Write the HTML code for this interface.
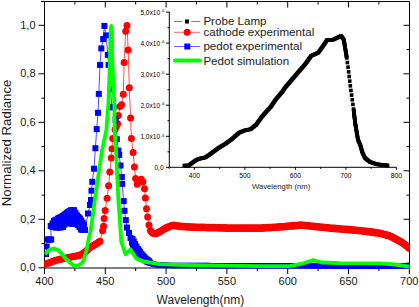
<!DOCTYPE html>
<html><head><meta charset="utf-8"><style>
html,body{margin:0;padding:0;background:#fff;}
body{width:419px;height:307px;overflow:hidden;}
svg{display:block;}
</style></head><body>
<svg width="419" height="307" viewBox="0 0 419 307">
<rect width="419" height="307" fill="#fff"/>
<defs><clipPath id="pc"><rect x="44.5" y="0" width="365" height="270"/></clipPath></defs>
<g stroke="#000" stroke-width="1" fill="none">
<path d="M41 1.5 H409.5 V268 H44.5 M44.5 268 V1.5"/>
<path d="M44.5 268 v6 M74.9 268 v3 M74.9 1.5 v3 M105.3 268 v6 M105.3 1.5 v6 M135.7 268 v3 M135.7 1.5 v3 M166.1 268 v6 M166.1 1.5 v6 M196.5 268 v3 M196.5 1.5 v3 M226.9 268 v6 M226.9 1.5 v6 M257.3 268 v3 M257.3 1.5 v3 M287.7 268 v6 M287.7 1.5 v6 M318.1 268 v3 M318.1 1.5 v3 M348.5 268 v6 M348.5 1.5 v6 M378.9 268 v3 M378.9 1.5 v3 M409.3 268 v6 M44.5 267.8 h-6 M409.5 267.8 h-6 M44.5 243.6 h-3 M409.5 243.6 h-3 M44.5 219.3 h-6 M409.5 219.3 h-6 M44.5 195.1 h-3 M409.5 195.1 h-3 M44.5 170.8 h-6 M409.5 170.8 h-6 M44.5 146.6 h-3 M409.5 146.6 h-3 M44.5 122.3 h-6 M409.5 122.3 h-6 M44.5 98.1 h-3 M409.5 98.1 h-3 M44.5 73.8 h-6 M409.5 73.8 h-6 M44.5 49.6 h-3 M409.5 49.6 h-3 M44.5 25.3 h-6 M409.5 25.3 h-6"/>
</g>
<g clip-path="url(#pc)">
<polyline points="44.0,264.5 50.0,262.5 55.0,260.6 60.0,259.3 70.0,257.2 80.0,255.3 85.0,252.0 90.0,247.5 95.0,244.5 100.0,241.3 102.6,230.8 103.6,226.3 104.1,218.5 105.2,210.4 107.1,198.3 108.6,185.8 109.8,172.0 111.3,158.0 112.0,148.7 112.7,138.4 115.1,129.4 117.6,123.7 118.4,115.6 120.0,106.6 121.6,104.8 123.3,94.2 124.1,62.4 125.7,31.3 127.0,25.6 128.2,50.0 129.3,87.7 130.6,118.0 131.4,138.4 133.1,152.4 134.4,167.1 135.6,178.5 137.2,184.2 141.3,179.3 142.9,181.8 144.5,188.8 145.4,198.0 146.5,208.7 147.7,216.9 149.0,225.0 150.5,230.5 152.5,233.0 155.5,233.8 159.0,232.3 165.0,228.5 172.7,225.2 180.0,226.3 190.0,227.0 205.0,227.5 230.0,228.1 260.0,228.2 280.0,226.9 301.0,225.1 330.0,228.0 355.0,230.2 370.0,231.8 380.0,233.3 390.0,236.0 401.6,242.2 410.0,248.5" fill="none" stroke="#f00" stroke-width="0.7"/>
<g fill="#f00"><circle cx="44.0" cy="264.5" r="3.5"/><circle cx="45.2" cy="264.1" r="3.5"/><circle cx="46.4" cy="263.7" r="3.5"/><circle cx="47.6" cy="263.3" r="3.5"/><circle cx="48.8" cy="262.9" r="3.5"/><circle cx="50.0" cy="262.5" r="3.5"/><circle cx="51.2" cy="262.0" r="3.5"/><circle cx="52.5" cy="261.6" r="3.5"/><circle cx="53.8" cy="261.1" r="3.5"/><circle cx="55.0" cy="260.6" r="3.5"/><circle cx="56.2" cy="260.3" r="3.5"/><circle cx="57.5" cy="260.0" r="3.5"/><circle cx="58.8" cy="259.6" r="3.5"/><circle cx="60.0" cy="259.3" r="3.5"/><circle cx="61.2" cy="259.0" r="3.5"/><circle cx="62.5" cy="258.8" r="3.5"/><circle cx="63.8" cy="258.5" r="3.5"/><circle cx="65.0" cy="258.2" r="3.5"/><circle cx="66.2" cy="258.0" r="3.5"/><circle cx="67.5" cy="257.7" r="3.5"/><circle cx="68.8" cy="257.5" r="3.5"/><circle cx="70.0" cy="257.2" r="3.5"/><circle cx="71.2" cy="257.0" r="3.5"/><circle cx="72.5" cy="256.7" r="3.5"/><circle cx="73.8" cy="256.5" r="3.5"/><circle cx="75.0" cy="256.2" r="3.5"/><circle cx="76.2" cy="256.0" r="3.5"/><circle cx="77.5" cy="255.8" r="3.5"/><circle cx="78.8" cy="255.5" r="3.5"/><circle cx="80.0" cy="255.3" r="3.5"/><circle cx="81.2" cy="254.5" r="3.5"/><circle cx="82.5" cy="253.7" r="3.5"/><circle cx="83.8" cy="252.8" r="3.5"/><circle cx="85.0" cy="252.0" r="3.5"/><circle cx="86.2" cy="250.9" r="3.5"/><circle cx="87.5" cy="249.8" r="3.5"/><circle cx="88.8" cy="248.6" r="3.5"/><circle cx="90.0" cy="247.5" r="3.5"/><circle cx="91.2" cy="246.8" r="3.5"/><circle cx="92.5" cy="246.0" r="3.5"/><circle cx="93.8" cy="245.2" r="3.5"/><circle cx="95.0" cy="244.5" r="3.5"/><circle cx="96.2" cy="243.7" r="3.5"/><circle cx="97.5" cy="242.9" r="3.5"/><circle cx="98.8" cy="242.1" r="3.5"/><circle cx="100.0" cy="241.3" r="3.5"/><circle cx="102.6" cy="230.8" r="3.5"/><circle cx="103.6" cy="226.3" r="3.5"/><circle cx="104.1" cy="218.5" r="3.5"/><circle cx="105.2" cy="210.4" r="3.5"/><circle cx="107.1" cy="198.3" r="3.5"/><circle cx="108.6" cy="185.8" r="3.5"/><circle cx="109.8" cy="172.0" r="3.5"/><circle cx="111.3" cy="158.0" r="3.5"/><circle cx="112.0" cy="148.7" r="3.5"/><circle cx="112.7" cy="138.4" r="3.5"/><circle cx="115.1" cy="129.4" r="3.5"/><circle cx="116.3" cy="126.6" r="3.5"/><circle cx="117.6" cy="123.7" r="3.5"/><circle cx="118.4" cy="115.6" r="3.5"/><circle cx="120.0" cy="106.6" r="3.5"/><circle cx="121.6" cy="104.8" r="3.5"/><circle cx="123.3" cy="94.2" r="3.5"/><circle cx="124.1" cy="62.4" r="3.5"/><circle cx="125.7" cy="31.3" r="3.5"/><circle cx="127.0" cy="25.6" r="3.5"/><circle cx="128.2" cy="50.0" r="3.5"/><circle cx="129.3" cy="87.7" r="3.5"/><circle cx="130.6" cy="118.0" r="3.5"/><circle cx="131.4" cy="138.4" r="3.5"/><circle cx="133.1" cy="152.4" r="3.5"/><circle cx="134.4" cy="167.1" r="3.5"/><circle cx="135.6" cy="178.5" r="3.5"/><circle cx="137.2" cy="184.2" r="3.5"/><circle cx="138.6" cy="182.6" r="3.5"/><circle cx="139.9" cy="180.9" r="3.5"/><circle cx="141.3" cy="179.3" r="3.5"/><circle cx="142.9" cy="181.8" r="3.5"/><circle cx="144.5" cy="188.8" r="3.5"/><circle cx="145.4" cy="198.0" r="3.5"/><circle cx="146.5" cy="208.7" r="3.5"/><circle cx="147.7" cy="216.9" r="3.5"/><circle cx="149.0" cy="225.0" r="3.5"/><circle cx="150.5" cy="230.5" r="3.5"/><circle cx="151.5" cy="231.8" r="3.5"/><circle cx="152.5" cy="233.0" r="3.5"/><circle cx="154.0" cy="233.4" r="3.5"/><circle cx="155.5" cy="233.8" r="3.5"/><circle cx="156.7" cy="233.3" r="3.5"/><circle cx="157.8" cy="232.8" r="3.5"/><circle cx="159.0" cy="232.3" r="3.5"/><circle cx="160.2" cy="231.5" r="3.5"/><circle cx="161.4" cy="230.8" r="3.5"/><circle cx="162.6" cy="230.0" r="3.5"/><circle cx="163.8" cy="229.3" r="3.5"/><circle cx="165.0" cy="228.5" r="3.5"/><circle cx="165.0" cy="228.8" r="3.5"/><circle cx="166.3" cy="227.6" r="3.5"/><circle cx="167.6" cy="227.8" r="3.5"/><circle cx="168.8" cy="226.5" r="3.5"/><circle cx="170.1" cy="226.6" r="3.5"/><circle cx="171.4" cy="225.4" r="3.5"/><circle cx="172.7" cy="225.5" r="3.5"/><circle cx="173.9" cy="225.0" r="3.5"/><circle cx="175.1" cy="225.9" r="3.5"/><circle cx="176.3" cy="225.4" r="3.5"/><circle cx="177.6" cy="226.3" r="3.5"/><circle cx="178.8" cy="225.8" r="3.5"/><circle cx="180.0" cy="226.7" r="3.5"/><circle cx="181.2" cy="226.0" r="3.5"/><circle cx="182.5" cy="226.8" r="3.5"/><circle cx="183.8" cy="226.2" r="3.5"/><circle cx="185.0" cy="227.0" r="3.5"/><circle cx="186.2" cy="226.4" r="3.5"/><circle cx="187.5" cy="227.2" r="3.5"/><circle cx="188.8" cy="226.6" r="3.5"/><circle cx="190.0" cy="227.3" r="3.5"/><circle cx="191.2" cy="226.7" r="3.5"/><circle cx="192.5" cy="227.4" r="3.5"/><circle cx="193.8" cy="226.8" r="3.5"/><circle cx="195.0" cy="227.5" r="3.5"/><circle cx="196.2" cy="226.9" r="3.5"/><circle cx="197.5" cy="227.6" r="3.5"/><circle cx="198.8" cy="226.9" r="3.5"/><circle cx="200.0" cy="227.7" r="3.5"/><circle cx="201.2" cy="227.0" r="3.5"/><circle cx="202.5" cy="227.8" r="3.5"/><circle cx="203.8" cy="227.1" r="3.5"/><circle cx="205.0" cy="227.8" r="3.5"/><circle cx="206.2" cy="227.2" r="3.5"/><circle cx="207.4" cy="227.9" r="3.5"/><circle cx="208.6" cy="227.2" r="3.5"/><circle cx="209.8" cy="228.0" r="3.5"/><circle cx="211.0" cy="227.3" r="3.5"/><circle cx="212.1" cy="228.0" r="3.5"/><circle cx="213.3" cy="227.3" r="3.5"/><circle cx="214.5" cy="228.1" r="3.5"/><circle cx="215.7" cy="227.4" r="3.5"/><circle cx="216.9" cy="228.1" r="3.5"/><circle cx="218.1" cy="227.5" r="3.5"/><circle cx="219.3" cy="228.2" r="3.5"/><circle cx="220.5" cy="227.5" r="3.5"/><circle cx="221.7" cy="228.2" r="3.5"/><circle cx="222.9" cy="227.6" r="3.5"/><circle cx="224.0" cy="228.3" r="3.5"/><circle cx="225.2" cy="227.6" r="3.5"/><circle cx="226.4" cy="228.4" r="3.5"/><circle cx="227.6" cy="227.7" r="3.5"/><circle cx="228.8" cy="228.4" r="3.5"/><circle cx="230.0" cy="227.8" r="3.5"/><circle cx="231.2" cy="228.5" r="3.5"/><circle cx="232.4" cy="227.8" r="3.5"/><circle cx="233.6" cy="228.5" r="3.5"/><circle cx="234.8" cy="227.8" r="3.5"/><circle cx="236.0" cy="228.5" r="3.5"/><circle cx="237.2" cy="227.8" r="3.5"/><circle cx="238.4" cy="228.5" r="3.5"/><circle cx="239.6" cy="227.8" r="3.5"/><circle cx="240.8" cy="228.5" r="3.5"/><circle cx="242.0" cy="227.8" r="3.5"/><circle cx="243.2" cy="228.5" r="3.5"/><circle cx="244.4" cy="227.8" r="3.5"/><circle cx="245.6" cy="228.5" r="3.5"/><circle cx="246.8" cy="227.8" r="3.5"/><circle cx="248.0" cy="228.5" r="3.5"/><circle cx="249.2" cy="227.8" r="3.5"/><circle cx="250.4" cy="228.5" r="3.5"/><circle cx="251.6" cy="227.8" r="3.5"/><circle cx="252.8" cy="228.5" r="3.5"/><circle cx="254.0" cy="227.8" r="3.5"/><circle cx="255.2" cy="228.5" r="3.5"/><circle cx="256.4" cy="227.8" r="3.5"/><circle cx="257.6" cy="228.5" r="3.5"/><circle cx="258.8" cy="227.8" r="3.5"/><circle cx="260.0" cy="228.5" r="3.5"/><circle cx="261.2" cy="227.8" r="3.5"/><circle cx="262.4" cy="228.4" r="3.5"/><circle cx="263.5" cy="227.6" r="3.5"/><circle cx="264.7" cy="228.2" r="3.5"/><circle cx="265.9" cy="227.5" r="3.5"/><circle cx="267.1" cy="228.1" r="3.5"/><circle cx="268.2" cy="227.3" r="3.5"/><circle cx="269.4" cy="227.9" r="3.5"/><circle cx="270.6" cy="227.2" r="3.5"/><circle cx="271.8" cy="227.8" r="3.5"/><circle cx="272.9" cy="227.0" r="3.5"/><circle cx="274.1" cy="227.6" r="3.5"/><circle cx="275.3" cy="226.9" r="3.5"/><circle cx="276.5" cy="227.5" r="3.5"/><circle cx="277.6" cy="226.7" r="3.5"/><circle cx="278.8" cy="227.3" r="3.5"/><circle cx="280.0" cy="226.6" r="3.5"/><circle cx="281.2" cy="227.2" r="3.5"/><circle cx="282.3" cy="226.4" r="3.5"/><circle cx="283.5" cy="226.9" r="3.5"/><circle cx="284.7" cy="226.2" r="3.5"/><circle cx="285.8" cy="226.8" r="3.5"/><circle cx="287.0" cy="226.0" r="3.5"/><circle cx="288.2" cy="226.5" r="3.5"/><circle cx="289.3" cy="225.8" r="3.5"/><circle cx="290.5" cy="226.3" r="3.5"/><circle cx="291.7" cy="225.6" r="3.5"/><circle cx="292.8" cy="226.2" r="3.5"/><circle cx="294.0" cy="225.3" r="3.5"/><circle cx="295.2" cy="225.9" r="3.5"/><circle cx="296.3" cy="225.2" r="3.5"/><circle cx="297.5" cy="225.8" r="3.5"/><circle cx="298.7" cy="224.9" r="3.5"/><circle cx="299.8" cy="225.5" r="3.5"/><circle cx="301.0" cy="224.8" r="3.5"/><circle cx="302.2" cy="225.6" r="3.5"/><circle cx="303.4" cy="225.0" r="3.5"/><circle cx="304.6" cy="225.8" r="3.5"/><circle cx="305.8" cy="225.2" r="3.5"/><circle cx="307.0" cy="226.1" r="3.5"/><circle cx="308.2" cy="225.5" r="3.5"/><circle cx="309.5" cy="226.3" r="3.5"/><circle cx="310.7" cy="225.7" r="3.5"/><circle cx="311.9" cy="226.5" r="3.5"/><circle cx="313.1" cy="226.0" r="3.5"/><circle cx="314.3" cy="226.8" r="3.5"/><circle cx="315.5" cy="226.2" r="3.5"/><circle cx="316.7" cy="227.0" r="3.5"/><circle cx="317.9" cy="226.4" r="3.5"/><circle cx="319.1" cy="227.3" r="3.5"/><circle cx="320.3" cy="226.7" r="3.5"/><circle cx="321.5" cy="227.5" r="3.5"/><circle cx="322.8" cy="226.9" r="3.5"/><circle cx="324.0" cy="227.7" r="3.5"/><circle cx="325.2" cy="227.2" r="3.5"/><circle cx="326.4" cy="228.0" r="3.5"/><circle cx="327.6" cy="227.4" r="3.5"/><circle cx="328.8" cy="228.2" r="3.5"/><circle cx="330.0" cy="227.7" r="3.5"/><circle cx="331.2" cy="228.5" r="3.5"/><circle cx="332.4" cy="227.9" r="3.5"/><circle cx="333.6" cy="228.7" r="3.5"/><circle cx="334.8" cy="228.1" r="3.5"/><circle cx="336.0" cy="228.9" r="3.5"/><circle cx="337.1" cy="228.3" r="3.5"/><circle cx="338.3" cy="229.1" r="3.5"/><circle cx="339.5" cy="228.5" r="3.5"/><circle cx="340.7" cy="229.3" r="3.5"/><circle cx="341.9" cy="228.7" r="3.5"/><circle cx="343.1" cy="229.5" r="3.5"/><circle cx="344.3" cy="228.9" r="3.5"/><circle cx="345.5" cy="229.7" r="3.5"/><circle cx="346.7" cy="229.1" r="3.5"/><circle cx="347.9" cy="229.9" r="3.5"/><circle cx="349.0" cy="229.3" r="3.5"/><circle cx="350.2" cy="230.1" r="3.5"/><circle cx="351.4" cy="229.5" r="3.5"/><circle cx="352.6" cy="230.3" r="3.5"/><circle cx="353.8" cy="229.7" r="3.5"/><circle cx="355.0" cy="230.5" r="3.5"/><circle cx="356.2" cy="230.0" r="3.5"/><circle cx="357.5" cy="230.8" r="3.5"/><circle cx="358.8" cy="230.2" r="3.5"/><circle cx="360.0" cy="231.1" r="3.5"/><circle cx="361.2" cy="230.5" r="3.5"/><circle cx="362.5" cy="231.3" r="3.5"/><circle cx="363.8" cy="230.8" r="3.5"/><circle cx="365.0" cy="231.6" r="3.5"/><circle cx="366.2" cy="231.1" r="3.5"/><circle cx="367.5" cy="231.9" r="3.5"/><circle cx="368.8" cy="231.3" r="3.5"/><circle cx="370.0" cy="232.2" r="3.5"/><circle cx="371.2" cy="231.6" r="3.5"/><circle cx="372.5" cy="232.5" r="3.5"/><circle cx="373.8" cy="232.0" r="3.5"/><circle cx="375.0" cy="232.9" r="3.5"/><circle cx="376.2" cy="232.4" r="3.5"/><circle cx="377.5" cy="233.3" r="3.5"/><circle cx="378.8" cy="232.8" r="3.5"/><circle cx="380.0" cy="233.7" r="3.5"/><circle cx="381.2" cy="233.3" r="3.5"/><circle cx="382.5" cy="234.3" r="3.5"/><circle cx="383.8" cy="234.0" r="3.5"/><circle cx="385.0" cy="235.0" r="3.5"/><circle cx="386.2" cy="234.6" r="3.5"/><circle cx="387.5" cy="235.7" r="3.5"/><circle cx="388.8" cy="235.3" r="3.5"/><circle cx="390.0" cy="236.3" r="3.5"/><circle cx="391.2" cy="236.3" r="3.5"/><circle cx="392.3" cy="237.6" r="3.5"/><circle cx="393.5" cy="237.5" r="3.5"/><circle cx="394.6" cy="238.8" r="3.5"/><circle cx="395.8" cy="238.8" r="3.5"/><circle cx="397.0" cy="240.1" r="3.5"/><circle cx="398.1" cy="240.0" r="3.5"/><circle cx="399.3" cy="241.3" r="3.5"/><circle cx="400.4" cy="241.2" r="3.5"/><circle cx="401.6" cy="242.5" r="3.5"/><circle cx="402.8" cy="242.8" r="3.5"/><circle cx="404.0" cy="244.3" r="3.5"/><circle cx="405.2" cy="244.6" r="3.5"/><circle cx="406.4" cy="246.1" r="3.5"/><circle cx="407.6" cy="246.3" r="3.5"/><circle cx="408.8" cy="247.9" r="3.5"/><circle cx="410.0" cy="248.5" r="3.5"/></g>
<polyline points="46.0,254.0 46.7,246.5 47.4,239.5 51.2,239.5 50.7,226.0 53.0,227.0 56.0,227.5 59.0,227.5 63.0,227.0 66.0,222.0 70.0,219.0 74.0,220.0 78.0,225.0 81.0,229.5 85.0,230.0 88.0,213.5 90.0,205.0 91.0,200.0 91.5,190.7 92.3,181.8 94.0,168.7 95.4,148.2 96.7,129.1 98.0,112.8 98.8,93.9 100.0,64.9 101.3,48.4 103.2,39.1 104.4,25.9 106.2,35.4 107.8,54.9 108.6,64.9 110.5,89.0 111.9,107.2 113.5,107.4 115.6,119.6 116.8,139.2 118.4,150.6 119.2,154.9 120.5,165.5 121.8,177.0 122.2,183.9 123.7,201.1 124.5,210.8 125.8,220.1 127.0,227.5 129.0,233.0 130.5,238.0 132.0,242.5 134.0,247.0 136.5,251.0 139.5,255.0 143.0,258.5 147.0,261.5 152.0,263.8 158.0,264.9 170.0,265.5 250.0,265.6 300.0,265.6 340.0,265.9 398.0,266.3 404.0,265.8 410.0,265.3" fill="none" stroke="#00f" stroke-width="0.7"/>
<g fill="#00f"><rect x="43.0" y="251.0" width="6" height="6"/><rect x="43.7" y="243.5" width="6" height="6"/><rect x="44.4" y="236.5" width="6" height="6"/><rect x="45.7" y="236.5" width="6" height="6"/><rect x="46.9" y="236.5" width="6" height="6"/><rect x="48.2" y="236.5" width="6" height="6"/><rect x="47.7" y="223.0" width="6" height="6"/><rect x="48.9" y="223.5" width="6" height="6"/><rect x="50.0" y="224.0" width="6" height="6"/><rect x="51.5" y="224.2" width="6" height="6"/><rect x="53.0" y="224.5" width="6" height="6"/><rect x="54.5" y="224.5" width="6" height="6"/><rect x="56.0" y="224.5" width="6" height="6"/><rect x="57.3" y="224.3" width="6" height="6"/><rect x="58.7" y="224.2" width="6" height="6"/><rect x="60.0" y="224.0" width="6" height="6"/><rect x="61.5" y="221.5" width="6" height="6"/><rect x="63.0" y="219.0" width="6" height="6"/><rect x="64.3" y="218.0" width="6" height="6"/><rect x="65.7" y="217.0" width="6" height="6"/><rect x="67.0" y="216.0" width="6" height="6"/><rect x="68.3" y="216.3" width="6" height="6"/><rect x="69.7" y="216.7" width="6" height="6"/><rect x="71.0" y="217.0" width="6" height="6"/><rect x="72.3" y="218.7" width="6" height="6"/><rect x="73.7" y="220.3" width="6" height="6"/><rect x="75.0" y="222.0" width="6" height="6"/><rect x="76.5" y="224.2" width="6" height="6"/><rect x="78.0" y="226.5" width="6" height="6"/><rect x="79.3" y="226.7" width="6" height="6"/><rect x="80.7" y="226.8" width="6" height="6"/><rect x="82.0" y="227.0" width="6" height="6"/><rect x="85.0" y="210.5" width="6" height="6"/><rect x="87.0" y="202.0" width="6" height="6"/><rect x="88.0" y="197.0" width="6" height="6"/><rect x="88.5" y="187.7" width="6" height="6"/><rect x="89.3" y="178.8" width="6" height="6"/><rect x="91.0" y="165.7" width="6" height="6"/><rect x="92.4" y="145.2" width="6" height="6"/><rect x="93.7" y="126.1" width="6" height="6"/><rect x="95.0" y="109.8" width="6" height="6"/><rect x="95.8" y="90.9" width="6" height="6"/><rect x="97.0" y="61.9" width="6" height="6"/><rect x="98.3" y="45.4" width="6" height="6"/><rect x="100.2" y="36.1" width="6" height="6"/><rect x="101.4" y="22.9" width="6" height="6"/><rect x="103.2" y="32.4" width="6" height="6"/><rect x="104.8" y="51.9" width="6" height="6"/><rect x="105.6" y="61.9" width="6" height="6"/><rect x="107.5" y="86.0" width="6" height="6"/><rect x="108.9" y="104.2" width="6" height="6"/><rect x="110.5" y="104.4" width="6" height="6"/><rect x="112.6" y="116.6" width="6" height="6"/><rect x="113.8" y="136.2" width="6" height="6"/><rect x="115.4" y="147.6" width="6" height="6"/><rect x="116.2" y="151.9" width="6" height="6"/><rect x="117.5" y="162.5" width="6" height="6"/><rect x="118.8" y="174.0" width="6" height="6"/><rect x="119.2" y="180.9" width="6" height="6"/><rect x="120.7" y="198.1" width="6" height="6"/><rect x="121.5" y="207.8" width="6" height="6"/><rect x="122.8" y="217.1" width="6" height="6"/><rect x="124.0" y="224.5" width="6" height="6"/><rect x="126.0" y="230.0" width="6" height="6"/><rect x="127.5" y="235.0" width="6" height="6"/><rect x="129.0" y="239.5" width="6" height="6"/><rect x="130.0" y="241.8" width="6" height="6"/><rect x="131.0" y="244.0" width="6" height="6"/><rect x="132.2" y="246.0" width="6" height="6"/><rect x="133.5" y="248.0" width="6" height="6"/><rect x="135.0" y="250.0" width="6" height="6"/><rect x="136.5" y="252.0" width="6" height="6"/><rect x="137.7" y="253.2" width="6" height="6"/><rect x="138.8" y="254.3" width="6" height="6"/><rect x="140.0" y="255.5" width="6" height="6"/><rect x="141.3" y="256.5" width="6" height="6"/><rect x="142.7" y="257.5" width="6" height="6"/><rect x="144.0" y="258.5" width="6" height="6"/><rect x="145.2" y="259.1" width="6" height="6"/><rect x="146.5" y="259.6" width="6" height="6"/><rect x="148.2" y="260.6" width="5.2" height="5.2"/><rect x="149.4" y="261.2" width="5.2" height="5.2"/><rect x="150.6" y="261.4" width="5.2" height="5.2"/><rect x="151.8" y="261.6" width="5.2" height="5.2"/><rect x="153.0" y="261.9" width="5.2" height="5.2"/><rect x="154.2" y="262.1" width="5.2" height="5.2"/><rect x="155.4" y="262.3" width="5.2" height="5.2"/><rect x="156.6" y="262.4" width="5.2" height="5.2"/><rect x="157.8" y="262.4" width="5.2" height="5.2"/><rect x="159.0" y="262.5" width="5.2" height="5.2"/><rect x="160.2" y="262.5" width="5.2" height="5.2"/><rect x="161.4" y="262.6" width="5.2" height="5.2"/><rect x="162.6" y="262.7" width="5.2" height="5.2"/><rect x="163.8" y="262.7" width="5.2" height="5.2"/><rect x="165.0" y="262.8" width="5.2" height="5.2"/><rect x="166.2" y="262.8" width="5.2" height="5.2"/><rect x="167.4" y="262.9" width="5.2" height="5.2"/><rect x="168.6" y="262.9" width="5.2" height="5.2"/><rect x="169.8" y="262.9" width="5.2" height="5.2"/><rect x="171.0" y="262.9" width="5.2" height="5.2"/><rect x="172.2" y="262.9" width="5.2" height="5.2"/><rect x="173.4" y="262.9" width="5.2" height="5.2"/><rect x="174.6" y="262.9" width="5.2" height="5.2"/><rect x="175.8" y="262.9" width="5.2" height="5.2"/><rect x="177.0" y="262.9" width="5.2" height="5.2"/><rect x="178.1" y="262.9" width="5.2" height="5.2"/><rect x="179.3" y="262.9" width="5.2" height="5.2"/><rect x="180.5" y="262.9" width="5.2" height="5.2"/><rect x="181.7" y="262.9" width="5.2" height="5.2"/><rect x="182.9" y="262.9" width="5.2" height="5.2"/><rect x="184.1" y="262.9" width="5.2" height="5.2"/><rect x="185.3" y="262.9" width="5.2" height="5.2"/><rect x="186.5" y="262.9" width="5.2" height="5.2"/><rect x="187.7" y="262.9" width="5.2" height="5.2"/><rect x="188.9" y="262.9" width="5.2" height="5.2"/><rect x="190.1" y="262.9" width="5.2" height="5.2"/><rect x="191.3" y="262.9" width="5.2" height="5.2"/><rect x="192.5" y="262.9" width="5.2" height="5.2"/><rect x="193.7" y="262.9" width="5.2" height="5.2"/><rect x="194.9" y="262.9" width="5.2" height="5.2"/><rect x="196.1" y="262.9" width="5.2" height="5.2"/><rect x="197.3" y="262.9" width="5.2" height="5.2"/><rect x="198.4" y="262.9" width="5.2" height="5.2"/><rect x="199.6" y="262.9" width="5.2" height="5.2"/><rect x="200.8" y="262.9" width="5.2" height="5.2"/><rect x="202.0" y="262.9" width="5.2" height="5.2"/><rect x="203.2" y="262.9" width="5.2" height="5.2"/><rect x="204.4" y="262.9" width="5.2" height="5.2"/><rect x="205.6" y="262.9" width="5.2" height="5.2"/><rect x="206.8" y="262.9" width="5.2" height="5.2"/><rect x="208.0" y="263.0" width="5.2" height="5.2"/><rect x="209.2" y="263.0" width="5.2" height="5.2"/><rect x="210.4" y="263.0" width="5.2" height="5.2"/><rect x="211.6" y="263.0" width="5.2" height="5.2"/><rect x="212.8" y="263.0" width="5.2" height="5.2"/><rect x="214.0" y="263.0" width="5.2" height="5.2"/><rect x="215.2" y="263.0" width="5.2" height="5.2"/><rect x="216.4" y="263.0" width="5.2" height="5.2"/><rect x="217.5" y="263.0" width="5.2" height="5.2"/><rect x="218.7" y="263.0" width="5.2" height="5.2"/><rect x="219.9" y="263.0" width="5.2" height="5.2"/><rect x="221.1" y="263.0" width="5.2" height="5.2"/><rect x="222.3" y="263.0" width="5.2" height="5.2"/><rect x="223.5" y="263.0" width="5.2" height="5.2"/><rect x="224.7" y="263.0" width="5.2" height="5.2"/><rect x="225.9" y="263.0" width="5.2" height="5.2"/><rect x="227.1" y="263.0" width="5.2" height="5.2"/><rect x="228.3" y="263.0" width="5.2" height="5.2"/><rect x="229.5" y="263.0" width="5.2" height="5.2"/><rect x="230.7" y="263.0" width="5.2" height="5.2"/><rect x="231.9" y="263.0" width="5.2" height="5.2"/><rect x="233.1" y="263.0" width="5.2" height="5.2"/><rect x="234.3" y="263.0" width="5.2" height="5.2"/><rect x="235.5" y="263.0" width="5.2" height="5.2"/><rect x="236.7" y="263.0" width="5.2" height="5.2"/><rect x="237.8" y="263.0" width="5.2" height="5.2"/><rect x="239.0" y="263.0" width="5.2" height="5.2"/><rect x="240.2" y="263.0" width="5.2" height="5.2"/><rect x="241.4" y="263.0" width="5.2" height="5.2"/><rect x="242.6" y="263.0" width="5.2" height="5.2"/><rect x="243.8" y="263.0" width="5.2" height="5.2"/><rect x="245.0" y="263.0" width="5.2" height="5.2"/><rect x="246.2" y="263.0" width="5.2" height="5.2"/><rect x="247.4" y="263.0" width="5.2" height="5.2"/><rect x="248.6" y="263.0" width="5.2" height="5.2"/><rect x="249.8" y="263.0" width="5.2" height="5.2"/><rect x="251.0" y="263.0" width="5.2" height="5.2"/><rect x="252.2" y="263.0" width="5.2" height="5.2"/><rect x="253.4" y="263.0" width="5.2" height="5.2"/><rect x="254.5" y="263.0" width="5.2" height="5.2"/><rect x="255.7" y="263.0" width="5.2" height="5.2"/><rect x="256.9" y="263.0" width="5.2" height="5.2"/><rect x="258.1" y="263.0" width="5.2" height="5.2"/><rect x="259.3" y="263.0" width="5.2" height="5.2"/><rect x="260.5" y="263.0" width="5.2" height="5.2"/><rect x="261.7" y="263.0" width="5.2" height="5.2"/><rect x="262.9" y="263.0" width="5.2" height="5.2"/><rect x="264.1" y="263.0" width="5.2" height="5.2"/><rect x="265.3" y="263.0" width="5.2" height="5.2"/><rect x="266.4" y="263.0" width="5.2" height="5.2"/><rect x="267.6" y="263.0" width="5.2" height="5.2"/><rect x="268.8" y="263.0" width="5.2" height="5.2"/><rect x="270.0" y="263.0" width="5.2" height="5.2"/><rect x="271.2" y="263.0" width="5.2" height="5.2"/><rect x="272.4" y="263.0" width="5.2" height="5.2"/><rect x="273.6" y="263.0" width="5.2" height="5.2"/><rect x="274.8" y="263.0" width="5.2" height="5.2"/><rect x="276.0" y="263.0" width="5.2" height="5.2"/><rect x="277.2" y="263.0" width="5.2" height="5.2"/><rect x="278.4" y="263.0" width="5.2" height="5.2"/><rect x="279.5" y="263.0" width="5.2" height="5.2"/><rect x="280.7" y="263.0" width="5.2" height="5.2"/><rect x="281.9" y="263.0" width="5.2" height="5.2"/><rect x="283.1" y="263.0" width="5.2" height="5.2"/><rect x="284.3" y="263.0" width="5.2" height="5.2"/><rect x="285.5" y="263.0" width="5.2" height="5.2"/><rect x="286.7" y="263.0" width="5.2" height="5.2"/><rect x="287.9" y="263.0" width="5.2" height="5.2"/><rect x="289.1" y="263.0" width="5.2" height="5.2"/><rect x="290.3" y="263.0" width="5.2" height="5.2"/><rect x="291.4" y="263.0" width="5.2" height="5.2"/><rect x="292.6" y="263.0" width="5.2" height="5.2"/><rect x="293.8" y="263.0" width="5.2" height="5.2"/><rect x="295.0" y="263.0" width="5.2" height="5.2"/><rect x="296.2" y="263.0" width="5.2" height="5.2"/><rect x="297.4" y="263.0" width="5.2" height="5.2"/><rect x="298.6" y="263.0" width="5.2" height="5.2"/><rect x="299.8" y="263.0" width="5.2" height="5.2"/><rect x="301.0" y="263.0" width="5.2" height="5.2"/><rect x="302.2" y="263.0" width="5.2" height="5.2"/><rect x="303.5" y="263.0" width="5.2" height="5.2"/><rect x="304.7" y="263.1" width="5.2" height="5.2"/><rect x="305.9" y="263.1" width="5.2" height="5.2"/><rect x="307.1" y="263.1" width="5.2" height="5.2"/><rect x="308.3" y="263.1" width="5.2" height="5.2"/><rect x="309.5" y="263.1" width="5.2" height="5.2"/><rect x="310.7" y="263.1" width="5.2" height="5.2"/><rect x="311.9" y="263.1" width="5.2" height="5.2"/><rect x="313.2" y="263.1" width="5.2" height="5.2"/><rect x="314.4" y="263.1" width="5.2" height="5.2"/><rect x="315.6" y="263.1" width="5.2" height="5.2"/><rect x="316.8" y="263.1" width="5.2" height="5.2"/><rect x="318.0" y="263.2" width="5.2" height="5.2"/><rect x="319.2" y="263.2" width="5.2" height="5.2"/><rect x="320.4" y="263.2" width="5.2" height="5.2"/><rect x="321.6" y="263.2" width="5.2" height="5.2"/><rect x="322.9" y="263.2" width="5.2" height="5.2"/><rect x="324.1" y="263.2" width="5.2" height="5.2"/><rect x="325.3" y="263.2" width="5.2" height="5.2"/><rect x="326.5" y="263.2" width="5.2" height="5.2"/><rect x="327.7" y="263.2" width="5.2" height="5.2"/><rect x="328.9" y="263.2" width="5.2" height="5.2"/><rect x="330.1" y="263.2" width="5.2" height="5.2"/><rect x="331.3" y="263.3" width="5.2" height="5.2"/><rect x="332.6" y="263.3" width="5.2" height="5.2"/><rect x="333.8" y="263.3" width="5.2" height="5.2"/><rect x="335.0" y="263.3" width="5.2" height="5.2"/><rect x="336.2" y="263.3" width="5.2" height="5.2"/><rect x="337.4" y="263.3" width="5.2" height="5.2"/><rect x="338.6" y="263.3" width="5.2" height="5.2"/><rect x="339.8" y="263.3" width="5.2" height="5.2"/><rect x="341.0" y="263.3" width="5.2" height="5.2"/><rect x="342.2" y="263.3" width="5.2" height="5.2"/><rect x="343.4" y="263.3" width="5.2" height="5.2"/><rect x="344.6" y="263.3" width="5.2" height="5.2"/><rect x="345.9" y="263.4" width="5.2" height="5.2"/><rect x="347.1" y="263.4" width="5.2" height="5.2"/><rect x="348.3" y="263.4" width="5.2" height="5.2"/><rect x="349.5" y="263.4" width="5.2" height="5.2"/><rect x="350.7" y="263.4" width="5.2" height="5.2"/><rect x="351.9" y="263.4" width="5.2" height="5.2"/><rect x="353.1" y="263.4" width="5.2" height="5.2"/><rect x="354.3" y="263.4" width="5.2" height="5.2"/><rect x="355.5" y="263.4" width="5.2" height="5.2"/><rect x="356.7" y="263.4" width="5.2" height="5.2"/><rect x="357.9" y="263.4" width="5.2" height="5.2"/><rect x="359.1" y="263.4" width="5.2" height="5.2"/><rect x="360.4" y="263.5" width="5.2" height="5.2"/><rect x="361.6" y="263.5" width="5.2" height="5.2"/><rect x="362.8" y="263.5" width="5.2" height="5.2"/><rect x="364.0" y="263.5" width="5.2" height="5.2"/><rect x="365.2" y="263.5" width="5.2" height="5.2"/><rect x="366.4" y="263.5" width="5.2" height="5.2"/><rect x="367.6" y="263.5" width="5.2" height="5.2"/><rect x="368.8" y="263.5" width="5.2" height="5.2"/><rect x="370.0" y="263.5" width="5.2" height="5.2"/><rect x="371.2" y="263.5" width="5.2" height="5.2"/><rect x="372.4" y="263.5" width="5.2" height="5.2"/><rect x="373.6" y="263.5" width="5.2" height="5.2"/><rect x="374.9" y="263.6" width="5.2" height="5.2"/><rect x="376.1" y="263.6" width="5.2" height="5.2"/><rect x="377.3" y="263.6" width="5.2" height="5.2"/><rect x="378.5" y="263.6" width="5.2" height="5.2"/><rect x="379.7" y="263.6" width="5.2" height="5.2"/><rect x="380.9" y="263.6" width="5.2" height="5.2"/><rect x="382.1" y="263.6" width="5.2" height="5.2"/><rect x="383.3" y="263.6" width="5.2" height="5.2"/><rect x="384.5" y="263.6" width="5.2" height="5.2"/><rect x="385.7" y="263.6" width="5.2" height="5.2"/><rect x="386.9" y="263.6" width="5.2" height="5.2"/><rect x="388.1" y="263.6" width="5.2" height="5.2"/><rect x="389.4" y="263.7" width="5.2" height="5.2"/><rect x="390.6" y="263.7" width="5.2" height="5.2"/><rect x="391.8" y="263.7" width="5.2" height="5.2"/><rect x="393.0" y="263.7" width="5.2" height="5.2"/><rect x="394.2" y="263.7" width="5.2" height="5.2"/><rect x="395.4" y="263.7" width="5.2" height="5.2"/><rect x="396.6" y="263.6" width="5.2" height="5.2"/><rect x="397.8" y="263.5" width="5.2" height="5.2"/><rect x="399.0" y="263.4" width="5.2" height="5.2"/><rect x="400.2" y="263.3" width="5.2" height="5.2"/><rect x="401.4" y="263.2" width="5.2" height="5.2"/><rect x="402.6" y="263.1" width="5.2" height="5.2"/><rect x="403.8" y="263.0" width="5.2" height="5.2"/><rect x="405.0" y="262.9" width="5.2" height="5.2"/><rect x="406.2" y="262.8" width="5.2" height="5.2"/><rect x="407.4" y="262.7" width="5.2" height="5.2"/><rect x="48.0" y="223.0" width="6" height="6"/><rect x="49.5" y="220.5" width="6" height="6"/><rect x="51.0" y="218.0" width="6" height="6"/><rect x="52.3" y="217.2" width="6" height="6"/><rect x="53.7" y="216.4" width="6" height="6"/><rect x="55.0" y="215.6" width="6" height="6"/><rect x="56.2" y="214.9" width="6" height="6"/><rect x="57.5" y="214.3" width="6" height="6"/><rect x="58.8" y="213.7" width="6" height="6"/><rect x="60.0" y="213.0" width="6" height="6"/><rect x="61.2" y="212.0" width="6" height="6"/><rect x="62.5" y="211.1" width="6" height="6"/><rect x="63.8" y="210.1" width="6" height="6"/><rect x="65.0" y="209.1" width="6" height="6"/><rect x="66.5" y="208.1" width="6" height="6"/><rect x="68.0" y="207.2" width="6" height="6"/><rect x="69.5" y="207.2" width="6" height="6"/><rect x="71.0" y="207.2" width="6" height="6"/><rect x="72.5" y="209.8" width="6" height="6"/><rect x="74.0" y="212.4" width="6" height="6"/><rect x="75.5" y="213.9" width="6" height="6"/><rect x="77.0" y="215.5" width="6" height="6"/><rect x="78.3" y="217.7" width="6" height="6"/><rect x="79.7" y="219.8" width="6" height="6"/><rect x="81.0" y="222.0" width="6" height="6"/><rect x="79.8" y="221.8" width="6" height="6"/><rect x="78.6" y="221.7" width="6" height="6"/><rect x="77.4" y="221.6" width="6" height="6"/><rect x="76.2" y="221.4" width="6" height="6"/><rect x="75.0" y="221.2" width="6" height="6"/><rect x="73.8" y="221.1" width="6" height="6"/><rect x="72.6" y="220.9" width="6" height="6"/><rect x="71.4" y="220.8" width="6" height="6"/><rect x="70.2" y="220.7" width="6" height="6"/><rect x="69.0" y="220.5" width="6" height="6"/><rect x="67.8" y="220.3" width="6" height="6"/><rect x="66.6" y="220.2" width="6" height="6"/><rect x="65.4" y="220.1" width="6" height="6"/><rect x="64.2" y="219.9" width="6" height="6"/><rect x="63.0" y="219.8" width="6" height="6"/><rect x="61.8" y="219.6" width="6" height="6"/><rect x="60.6" y="219.4" width="6" height="6"/><rect x="59.4" y="219.3" width="6" height="6"/><rect x="58.2" y="219.2" width="6" height="6"/><rect x="57.0" y="219.0" width="6" height="6"/><rect x="58.2" y="218.0" width="6" height="6"/><rect x="59.5" y="217.0" width="6" height="6"/><rect x="60.8" y="216.0" width="6" height="6"/><rect x="62.0" y="215.0" width="6" height="6"/><rect x="63.2" y="214.2" width="6" height="6"/><rect x="64.4" y="213.4" width="6" height="6"/><rect x="65.6" y="212.6" width="6" height="6"/><rect x="66.8" y="211.8" width="6" height="6"/><rect x="68.0" y="211.0" width="6" height="6"/><rect x="69.2" y="211.8" width="6" height="6"/><rect x="70.5" y="212.5" width="6" height="6"/><rect x="71.8" y="213.2" width="6" height="6"/><rect x="73.0" y="214.0" width="6" height="6"/><rect x="129.5" y="236.0" width="6" height="6"/><rect x="130.8" y="238.5" width="6" height="6"/><rect x="132.0" y="241.0" width="6" height="6"/><rect x="133.5" y="243.5" width="6" height="6"/><rect x="135.0" y="246.0" width="6" height="6"/><rect x="136.2" y="247.7" width="6" height="6"/><rect x="137.3" y="249.3" width="6" height="6"/><rect x="138.5" y="251.0" width="6" height="6"/><rect x="139.8" y="252.5" width="6" height="6"/><rect x="141.2" y="254.0" width="6" height="6"/><rect x="142.5" y="255.5" width="6" height="6"/><rect x="143.6" y="256.4" width="6" height="6"/><rect x="144.8" y="257.2" width="6" height="6"/><rect x="145.9" y="258.1" width="6" height="6"/><rect x="147.4" y="259.4" width="5.2" height="5.2"/></g>
<polyline points="46.0,253.0 50.0,249.5 54.0,248.5 58.0,250.0 62.0,254.0 66.0,259.0 70.0,262.5 73.0,265.0 76.0,266.3 79.0,265.0 82.0,263.0 83.8,260.0 86.6,250.0 88.4,240.0 89.6,235.0 90.8,230.0 94.8,200.0 102.1,150.0 106.4,130.0 108.6,100.0 109.8,65.0 110.7,30.0 111.3,25.8 112.0,30.0 112.2,58.0 112.7,70.0 114.2,100.0 114.7,130.0 116.0,150.0 118.4,200.0 120.2,225.0 121.2,241.3 125.6,254.3 130.5,249.4 136.2,258.4 143.5,261.5 160.0,264.1 180.0,264.8 220.0,265.7 260.0,266.2 290.0,266.1 302.0,263.7 313.3,260.1 321.6,262.5 340.0,263.2 380.0,263.4 395.0,264.5 409.5,266.6" fill="none" stroke="#0f0" stroke-width="3.8" stroke-linejoin="round" stroke-linecap="round"/>
</g>
<text x="35.5" y="271.3" font-family="Liberation Sans, sans-serif" font-size="11" text-anchor="end" fill="#1a1a1a">0,0</text>
<text x="35.5" y="222.8" font-family="Liberation Sans, sans-serif" font-size="11" text-anchor="end" fill="#1a1a1a">0,2</text>
<text x="35.5" y="174.3" font-family="Liberation Sans, sans-serif" font-size="11" text-anchor="end" fill="#1a1a1a">0,4</text>
<text x="35.5" y="125.8" font-family="Liberation Sans, sans-serif" font-size="11" text-anchor="end" fill="#1a1a1a">0,6</text>
<text x="35.5" y="77.3" font-family="Liberation Sans, sans-serif" font-size="11" text-anchor="end" fill="#1a1a1a">0,8</text>
<text x="35.5" y="28.8" font-family="Liberation Sans, sans-serif" font-size="11" text-anchor="end" fill="#1a1a1a">1,0</text>
<text x="44.5" y="285.4" font-family="Liberation Sans, sans-serif" font-size="11" text-anchor="middle" fill="#1a1a1a">400</text>
<text x="105.3" y="285.4" font-family="Liberation Sans, sans-serif" font-size="11" text-anchor="middle" fill="#1a1a1a">450</text>
<text x="166.1" y="285.4" font-family="Liberation Sans, sans-serif" font-size="11" text-anchor="middle" fill="#1a1a1a">500</text>
<text x="226.9" y="285.4" font-family="Liberation Sans, sans-serif" font-size="11" text-anchor="middle" fill="#1a1a1a">550</text>
<text x="287.7" y="285.4" font-family="Liberation Sans, sans-serif" font-size="11" text-anchor="middle" fill="#1a1a1a">600</text>
<text x="348.5" y="285.4" font-family="Liberation Sans, sans-serif" font-size="11" text-anchor="middle" fill="#1a1a1a">650</text>
<text x="409.3" y="285.4" font-family="Liberation Sans, sans-serif" font-size="11" text-anchor="middle" fill="#1a1a1a">700</text>
<text x="200.4" y="303.5" font-family="Liberation Sans, sans-serif" font-size="12" text-anchor="middle" fill="#1a1a1a">Wavelength(nm)</text>
<text transform="translate(10.8 142.9) rotate(-90)" x="0" y="0" font-family="Liberation Sans, sans-serif" font-size="13.25" text-anchor="middle" fill="#1a1a1a">Normalized Radiance</text>
<g fill="#000"><rect x="182.50" y="163.80" width="3.6" height="3.6"/><rect x="183.40" y="163.80" width="3.6" height="3.6"/><rect x="184.30" y="163.80" width="3.6" height="3.6"/><rect x="185.20" y="163.80" width="3.6" height="3.6"/><rect x="186.10" y="163.80" width="3.6" height="3.6"/><rect x="186.94" y="163.62" width="3.6" height="3.6"/><rect x="187.66" y="163.08" width="3.6" height="3.6"/><rect x="188.39" y="162.55" width="3.6" height="3.6"/><rect x="189.11" y="162.01" width="3.6" height="3.6"/><rect x="189.83" y="161.47" width="3.6" height="3.6"/><rect x="190.56" y="160.95" width="3.6" height="3.6"/><rect x="191.29" y="160.42" width="3.6" height="3.6"/><rect x="192.03" y="159.90" width="3.6" height="3.6"/><rect x="192.76" y="159.38" width="3.6" height="3.6"/><rect x="193.49" y="158.86" width="3.6" height="3.6"/><rect x="194.23" y="158.34" width="3.6" height="3.6"/><rect x="195.00" y="157.90" width="3.6" height="3.6"/><rect x="195.86" y="157.61" width="3.6" height="3.6"/><rect x="196.71" y="157.33" width="3.6" height="3.6"/><rect x="197.56" y="157.05" width="3.6" height="3.6"/><rect x="198.42" y="156.76" width="3.6" height="3.6"/><rect x="199.27" y="156.49" width="3.6" height="3.6"/><rect x="200.16" y="156.33" width="3.6" height="3.6"/><rect x="201.05" y="156.18" width="3.6" height="3.6"/><rect x="201.93" y="156.02" width="3.6" height="3.6"/><rect x="202.82" y="155.87" width="3.6" height="3.6"/><rect x="203.63" y="155.52" width="3.6" height="3.6"/><rect x="204.39" y="155.03" width="3.6" height="3.6"/><rect x="205.14" y="154.54" width="3.6" height="3.6"/><rect x="205.89" y="154.05" width="3.6" height="3.6"/><rect x="206.65" y="153.56" width="3.6" height="3.6"/><rect x="207.40" y="153.06" width="3.6" height="3.6"/><rect x="208.12" y="152.52" width="3.6" height="3.6"/><rect x="208.84" y="151.99" width="3.6" height="3.6"/><rect x="209.57" y="151.45" width="3.6" height="3.6"/><rect x="210.29" y="150.92" width="3.6" height="3.6"/><rect x="211.02" y="150.38" width="3.6" height="3.6"/><rect x="211.74" y="149.85" width="3.6" height="3.6"/><rect x="212.47" y="149.32" width="3.6" height="3.6"/><rect x="213.20" y="148.80" width="3.6" height="3.6"/><rect x="213.93" y="148.27" width="3.6" height="3.6"/><rect x="214.66" y="147.74" width="3.6" height="3.6"/><rect x="215.39" y="147.21" width="3.6" height="3.6"/><rect x="216.12" y="146.68" width="3.6" height="3.6"/><rect x="216.85" y="146.16" width="3.6" height="3.6"/><rect x="217.60" y="145.66" width="3.6" height="3.6"/><rect x="218.36" y="145.19" width="3.6" height="3.6"/><rect x="219.13" y="144.73" width="3.6" height="3.6"/><rect x="219.90" y="144.26" width="3.6" height="3.6"/><rect x="220.67" y="143.79" width="3.6" height="3.6"/><rect x="221.44" y="143.33" width="3.6" height="3.6"/><rect x="222.21" y="142.86" width="3.6" height="3.6"/><rect x="222.98" y="142.40" width="3.6" height="3.6"/><rect x="223.75" y="141.93" width="3.6" height="3.6"/><rect x="224.48" y="141.40" width="3.6" height="3.6"/><rect x="225.20" y="140.86" width="3.6" height="3.6"/><rect x="225.92" y="140.32" width="3.6" height="3.6"/><rect x="226.65" y="139.79" width="3.6" height="3.6"/><rect x="227.37" y="139.25" width="3.6" height="3.6"/><rect x="228.09" y="138.71" width="3.6" height="3.6"/><rect x="228.81" y="138.18" width="3.6" height="3.6"/><rect x="229.54" y="137.64" width="3.6" height="3.6"/><rect x="230.26" y="137.10" width="3.6" height="3.6"/><rect x="230.94" y="136.52" width="3.6" height="3.6"/><rect x="231.62" y="135.92" width="3.6" height="3.6"/><rect x="232.29" y="135.33" width="3.6" height="3.6"/><rect x="232.97" y="134.73" width="3.6" height="3.6"/><rect x="233.64" y="134.14" width="3.6" height="3.6"/><rect x="234.31" y="133.54" width="3.6" height="3.6"/><rect x="234.99" y="132.94" width="3.6" height="3.6"/><rect x="235.66" y="132.35" width="3.6" height="3.6"/><rect x="236.34" y="131.75" width="3.6" height="3.6"/><rect x="237.01" y="131.16" width="3.6" height="3.6"/><rect x="237.78" y="130.71" width="3.6" height="3.6"/><rect x="238.61" y="130.37" width="3.6" height="3.6"/><rect x="239.45" y="130.03" width="3.6" height="3.6"/><rect x="240.28" y="129.70" width="3.6" height="3.6"/><rect x="241.12" y="129.36" width="3.6" height="3.6"/><rect x="241.95" y="129.02" width="3.6" height="3.6"/><rect x="242.78" y="128.69" width="3.6" height="3.6"/><rect x="243.66" y="128.47" width="3.6" height="3.6"/><rect x="244.54" y="128.30" width="3.6" height="3.6"/><rect x="245.42" y="128.13" width="3.6" height="3.6"/><rect x="246.31" y="127.96" width="3.6" height="3.6"/><rect x="247.19" y="127.79" width="3.6" height="3.6"/><rect x="248.07" y="127.62" width="3.6" height="3.6"/><rect x="248.90" y="127.33" width="3.6" height="3.6"/><rect x="249.61" y="126.77" width="3.6" height="3.6"/><rect x="250.31" y="126.20" width="3.6" height="3.6"/><rect x="251.01" y="125.64" width="3.6" height="3.6"/><rect x="251.71" y="125.07" width="3.6" height="3.6"/><rect x="252.41" y="124.51" width="3.6" height="3.6"/><rect x="253.11" y="123.94" width="3.6" height="3.6"/><rect x="253.81" y="123.38" width="3.6" height="3.6"/><rect x="254.48" y="122.79" width="3.6" height="3.6"/><rect x="255.00" y="122.05" width="3.6" height="3.6"/><rect x="255.52" y="121.32" width="3.6" height="3.6"/><rect x="256.05" y="120.59" width="3.6" height="3.6"/><rect x="256.57" y="119.86" width="3.6" height="3.6"/><rect x="257.09" y="119.12" width="3.6" height="3.6"/><rect x="257.61" y="118.39" width="3.6" height="3.6"/><rect x="258.14" y="117.66" width="3.6" height="3.6"/><rect x="258.66" y="116.92" width="3.6" height="3.6"/><rect x="259.18" y="116.19" width="3.6" height="3.6"/><rect x="259.70" y="115.46" width="3.6" height="3.6"/><rect x="260.24" y="114.74" width="3.6" height="3.6"/><rect x="260.84" y="114.06" width="3.6" height="3.6"/><rect x="261.44" y="113.39" width="3.6" height="3.6"/><rect x="262.03" y="112.72" width="3.6" height="3.6"/><rect x="262.63" y="112.04" width="3.6" height="3.6"/><rect x="263.22" y="111.37" width="3.6" height="3.6"/><rect x="263.82" y="110.69" width="3.6" height="3.6"/><rect x="264.42" y="110.02" width="3.6" height="3.6"/><rect x="265.02" y="109.35" width="3.6" height="3.6"/><rect x="265.62" y="108.68" width="3.6" height="3.6"/><rect x="266.22" y="108.01" width="3.6" height="3.6"/><rect x="266.82" y="107.34" width="3.6" height="3.6"/><rect x="267.42" y="106.67" width="3.6" height="3.6"/><rect x="268.03" y="106.00" width="3.6" height="3.6"/><rect x="268.63" y="105.33" width="3.6" height="3.6"/><rect x="269.23" y="104.66" width="3.6" height="3.6"/><rect x="269.72" y="103.91" width="3.6" height="3.6"/><rect x="270.22" y="103.16" width="3.6" height="3.6"/><rect x="270.72" y="102.42" width="3.6" height="3.6"/><rect x="271.22" y="101.67" width="3.6" height="3.6"/><rect x="271.72" y="100.92" width="3.6" height="3.6"/><rect x="272.22" y="100.17" width="3.6" height="3.6"/><rect x="272.72" y="99.42" width="3.6" height="3.6"/><rect x="273.22" y="98.67" width="3.6" height="3.6"/><rect x="273.72" y="97.92" width="3.6" height="3.6"/><rect x="274.29" y="97.23" width="3.6" height="3.6"/><rect x="274.88" y="96.55" width="3.6" height="3.6"/><rect x="275.47" y="95.86" width="3.6" height="3.6"/><rect x="276.05" y="95.18" width="3.6" height="3.6"/><rect x="276.64" y="94.50" width="3.6" height="3.6"/><rect x="277.23" y="93.82" width="3.6" height="3.6"/><rect x="277.81" y="93.14" width="3.6" height="3.6"/><rect x="278.40" y="92.45" width="3.6" height="3.6"/><rect x="278.99" y="91.77" width="3.6" height="3.6"/><rect x="279.58" y="91.09" width="3.6" height="3.6"/><rect x="280.16" y="90.41" width="3.6" height="3.6"/><rect x="280.73" y="89.71" width="3.6" height="3.6"/><rect x="281.22" y="88.95" width="3.6" height="3.6"/><rect x="281.71" y="88.20" width="3.6" height="3.6"/><rect x="282.20" y="87.44" width="3.6" height="3.6"/><rect x="282.69" y="86.69" width="3.6" height="3.6"/><rect x="283.18" y="85.93" width="3.6" height="3.6"/><rect x="283.76" y="85.25" width="3.6" height="3.6"/><rect x="284.34" y="84.56" width="3.6" height="3.6"/><rect x="284.92" y="83.87" width="3.6" height="3.6"/><rect x="285.50" y="83.19" width="3.6" height="3.6"/><rect x="286.09" y="82.50" width="3.6" height="3.6"/><rect x="286.67" y="81.82" width="3.6" height="3.6"/><rect x="287.25" y="81.13" width="3.6" height="3.6"/><rect x="287.84" y="80.45" width="3.6" height="3.6"/><rect x="288.42" y="79.76" width="3.6" height="3.6"/><rect x="289.00" y="79.07" width="3.6" height="3.6"/><rect x="289.59" y="78.39" width="3.6" height="3.6"/><rect x="290.17" y="77.70" width="3.6" height="3.6"/><rect x="290.76" y="77.02" width="3.6" height="3.6"/><rect x="291.35" y="76.34" width="3.6" height="3.6"/><rect x="291.93" y="75.66" width="3.6" height="3.6"/><rect x="292.52" y="74.98" width="3.6" height="3.6"/><rect x="293.11" y="74.30" width="3.6" height="3.6"/><rect x="293.70" y="73.61" width="3.6" height="3.6"/><rect x="294.28" y="72.93" width="3.6" height="3.6"/><rect x="294.87" y="72.25" width="3.6" height="3.6"/><rect x="295.46" y="71.57" width="3.6" height="3.6"/><rect x="296.05" y="70.89" width="3.6" height="3.6"/><rect x="296.64" y="70.21" width="3.6" height="3.6"/><rect x="297.22" y="69.52" width="3.6" height="3.6"/><rect x="297.81" y="68.84" width="3.6" height="3.6"/><rect x="298.40" y="68.16" width="3.6" height="3.6"/><rect x="298.98" y="67.48" width="3.6" height="3.6"/><rect x="299.57" y="66.80" width="3.6" height="3.6"/><rect x="300.16" y="66.11" width="3.6" height="3.6"/><rect x="300.75" y="65.43" width="3.6" height="3.6"/><rect x="301.33" y="64.75" width="3.6" height="3.6"/><rect x="301.92" y="64.07" width="3.6" height="3.6"/><rect x="302.51" y="63.39" width="3.6" height="3.6"/><rect x="303.09" y="62.70" width="3.6" height="3.6"/><rect x="303.68" y="62.02" width="3.6" height="3.6"/><rect x="304.21" y="61.29" width="3.6" height="3.6"/><rect x="304.73" y="60.56" width="3.6" height="3.6"/><rect x="305.25" y="59.82" width="3.6" height="3.6"/><rect x="305.77" y="59.09" width="3.6" height="3.6"/><rect x="306.29" y="58.36" width="3.6" height="3.6"/><rect x="306.82" y="57.63" width="3.6" height="3.6"/><rect x="307.34" y="56.89" width="3.6" height="3.6"/><rect x="307.86" y="56.16" width="3.6" height="3.6"/><rect x="308.38" y="55.43" width="3.6" height="3.6"/><rect x="308.91" y="54.69" width="3.6" height="3.6"/><rect x="309.44" y="53.98" width="3.6" height="3.6"/><rect x="310.27" y="53.62" width="3.6" height="3.6"/><rect x="311.10" y="53.26" width="3.6" height="3.6"/><rect x="311.92" y="52.90" width="3.6" height="3.6"/><rect x="312.75" y="52.55" width="3.6" height="3.6"/><rect x="313.57" y="52.19" width="3.6" height="3.6"/><rect x="314.40" y="51.83" width="3.6" height="3.6"/><rect x="315.22" y="51.47" width="3.6" height="3.6"/><rect x="316.05" y="51.11" width="3.6" height="3.6"/><rect x="316.67" y="50.50" width="3.6" height="3.6"/><rect x="317.20" y="49.77" width="3.6" height="3.6"/><rect x="317.74" y="49.05" width="3.6" height="3.6"/><rect x="318.27" y="48.32" width="3.6" height="3.6"/><rect x="318.81" y="47.60" width="3.6" height="3.6"/><rect x="319.34" y="46.88" width="3.6" height="3.6"/><rect x="319.88" y="46.15" width="3.6" height="3.6"/><rect x="320.41" y="45.43" width="3.6" height="3.6"/><rect x="320.94" y="44.70" width="3.6" height="3.6"/><rect x="321.43" y="43.95" width="3.6" height="3.6"/><rect x="321.93" y="43.20" width="3.6" height="3.6"/><rect x="322.43" y="42.45" width="3.6" height="3.6"/><rect x="322.93" y="41.70" width="3.6" height="3.6"/><rect x="323.43" y="40.95" width="3.6" height="3.6"/><rect x="323.93" y="40.20" width="3.6" height="3.6"/><rect x="324.43" y="39.45" width="3.6" height="3.6"/><rect x="324.93" y="38.71" width="3.6" height="3.6"/><rect x="325.45" y="38.00" width="3.6" height="3.6"/><rect x="326.35" y="38.00" width="3.6" height="3.6"/><rect x="327.25" y="38.00" width="3.6" height="3.6"/><rect x="328.15" y="38.00" width="3.6" height="3.6"/><rect x="329.05" y="38.00" width="3.6" height="3.6"/><rect x="329.95" y="38.00" width="3.6" height="3.6"/><rect x="330.85" y="38.00" width="3.6" height="3.6"/><rect x="331.69" y="37.72" width="3.6" height="3.6"/><rect x="332.50" y="37.34" width="3.6" height="3.6"/><rect x="333.32" y="36.96" width="3.6" height="3.6"/><rect x="334.13" y="36.57" width="3.6" height="3.6"/><rect x="334.95" y="36.19" width="3.6" height="3.6"/><rect x="335.76" y="35.81" width="3.6" height="3.6"/><rect x="336.58" y="35.43" width="3.6" height="3.6"/><rect x="337.39" y="35.04" width="3.6" height="3.6"/><rect x="338.21" y="34.66" width="3.6" height="3.6"/><rect x="339.02" y="34.28" width="3.6" height="3.6"/><rect x="339.67" y="34.50" width="3.6" height="3.6"/><rect x="340.17" y="35.25" width="3.6" height="3.6"/><rect x="340.67" y="36.00" width="3.6" height="3.6"/><rect x="341.16" y="36.75" width="3.6" height="3.6"/><rect x="341.66" y="37.50" width="3.6" height="3.6"/><rect x="342.05" y="38.29" width="3.6" height="3.6"/><rect x="342.20" y="39.18" width="3.6" height="3.6"/><rect x="342.34" y="40.07" width="3.6" height="3.6"/><rect x="342.49" y="40.95" width="3.6" height="3.6"/><rect x="342.64" y="41.84" width="3.6" height="3.6"/><rect x="342.79" y="42.73" width="3.6" height="3.6"/><rect x="342.94" y="43.62" width="3.6" height="3.6"/><rect x="343.08" y="44.50" width="3.6" height="3.6"/><rect x="343.23" y="45.39" width="3.6" height="3.6"/><rect x="343.38" y="46.28" width="3.6" height="3.6"/><rect x="343.53" y="47.17" width="3.6" height="3.6"/><rect x="343.67" y="48.06" width="3.6" height="3.6"/><rect x="343.82" y="48.94" width="3.6" height="3.6"/><rect x="343.96" y="49.83" width="3.6" height="3.6"/><rect x="344.11" y="50.72" width="3.6" height="3.6"/><rect x="344.26" y="51.61" width="3.6" height="3.6"/><rect x="344.40" y="52.50" width="3.6" height="3.6"/><rect x="344.55" y="53.38" width="3.6" height="3.6"/><rect x="344.68" y="54.27" width="3.6" height="3.6"/><rect x="344.81" y="55.17" width="3.6" height="3.6"/><rect x="344.93" y="56.06" width="3.6" height="3.6"/><rect x="345.59" y="60.71" width="3.6" height="3.6"/><rect x="346.24" y="65.37" width="3.6" height="3.6"/><rect x="346.84" y="70.03" width="3.6" height="3.6"/><rect x="347.39" y="74.69" width="3.6" height="3.6"/><rect x="347.95" y="79.36" width="3.6" height="3.6"/><rect x="348.50" y="84.03" width="3.6" height="3.6"/><rect x="349.13" y="88.69" width="3.6" height="3.6"/><rect x="349.80" y="93.34" width="3.6" height="3.6"/><rect x="350.46" y="97.99" width="3.6" height="3.6"/><rect x="351.13" y="102.64" width="3.6" height="3.6"/><rect x="351.75" y="107.30" width="3.6" height="3.6"/><rect x="351.85" y="108.20" width="3.6" height="3.6"/><rect x="351.96" y="109.09" width="3.6" height="3.6"/><rect x="352.06" y="109.98" width="3.6" height="3.6"/><rect x="352.17" y="110.88" width="3.6" height="3.6"/><rect x="352.27" y="111.77" width="3.6" height="3.6"/><rect x="352.38" y="112.67" width="3.6" height="3.6"/><rect x="352.48" y="113.56" width="3.6" height="3.6"/><rect x="352.59" y="114.45" width="3.6" height="3.6"/><rect x="352.69" y="115.35" width="3.6" height="3.6"/><rect x="352.79" y="116.24" width="3.6" height="3.6"/><rect x="352.90" y="117.13" width="3.6" height="3.6"/><rect x="353.00" y="118.03" width="3.6" height="3.6"/><rect x="353.11" y="118.92" width="3.6" height="3.6"/><rect x="353.21" y="119.82" width="3.6" height="3.6"/><rect x="353.32" y="120.71" width="3.6" height="3.6"/><rect x="353.43" y="121.60" width="3.6" height="3.6"/><rect x="353.58" y="122.49" width="3.6" height="3.6"/><rect x="353.73" y="123.38" width="3.6" height="3.6"/><rect x="353.88" y="124.27" width="3.6" height="3.6"/><rect x="354.03" y="125.15" width="3.6" height="3.6"/><rect x="354.18" y="126.04" width="3.6" height="3.6"/><rect x="354.33" y="126.93" width="3.6" height="3.6"/><rect x="354.48" y="127.82" width="3.6" height="3.6"/><rect x="354.62" y="128.70" width="3.6" height="3.6"/><rect x="354.77" y="129.59" width="3.6" height="3.6"/><rect x="354.92" y="130.48" width="3.6" height="3.6"/><rect x="355.07" y="131.37" width="3.6" height="3.6"/><rect x="355.22" y="132.25" width="3.6" height="3.6"/><rect x="355.37" y="133.14" width="3.6" height="3.6"/><rect x="355.52" y="134.03" width="3.6" height="3.6"/><rect x="355.67" y="134.92" width="3.6" height="3.6"/><rect x="355.82" y="135.80" width="3.6" height="3.6"/><rect x="355.96" y="136.69" width="3.6" height="3.6"/><rect x="356.11" y="137.58" width="3.6" height="3.6"/><rect x="356.35" y="138.44" width="3.6" height="3.6"/><rect x="356.72" y="139.26" width="3.6" height="3.6"/><rect x="357.09" y="140.08" width="3.6" height="3.6"/><rect x="357.46" y="140.90" width="3.6" height="3.6"/><rect x="357.83" y="141.72" width="3.6" height="3.6"/><rect x="358.20" y="142.54" width="3.6" height="3.6"/><rect x="358.55" y="143.37" width="3.6" height="3.6"/><rect x="358.78" y="144.24" width="3.6" height="3.6"/><rect x="359.02" y="145.11" width="3.6" height="3.6"/><rect x="359.25" y="145.98" width="3.6" height="3.6"/><rect x="359.49" y="146.85" width="3.6" height="3.6"/><rect x="359.73" y="147.71" width="3.6" height="3.6"/><rect x="359.96" y="148.58" width="3.6" height="3.6"/><rect x="360.20" y="149.45" width="3.6" height="3.6"/><rect x="360.45" y="150.31" width="3.6" height="3.6"/><rect x="360.83" y="151.13" width="3.6" height="3.6"/><rect x="361.21" y="151.94" width="3.6" height="3.6"/><rect x="361.59" y="152.76" width="3.6" height="3.6"/><rect x="361.97" y="153.57" width="3.6" height="3.6"/><rect x="362.36" y="154.39" width="3.6" height="3.6"/><rect x="362.74" y="155.21" width="3.6" height="3.6"/><rect x="363.12" y="156.02" width="3.6" height="3.6"/><rect x="363.75" y="156.64" width="3.6" height="3.6"/><rect x="364.45" y="157.20" width="3.6" height="3.6"/><rect x="365.15" y="157.76" width="3.6" height="3.6"/><rect x="365.86" y="158.33" width="3.6" height="3.6"/><rect x="366.56" y="158.89" width="3.6" height="3.6"/><rect x="367.26" y="159.45" width="3.6" height="3.6"/><rect x="367.97" y="160.01" width="3.6" height="3.6"/><rect x="368.77" y="160.39" width="3.6" height="3.6"/><rect x="369.63" y="160.67" width="3.6" height="3.6"/><rect x="370.48" y="160.95" width="3.6" height="3.6"/><rect x="371.34" y="161.23" width="3.6" height="3.6"/><rect x="372.19" y="161.51" width="3.6" height="3.6"/><rect x="373.05" y="161.79" width="3.6" height="3.6"/><rect x="373.90" y="162.07" width="3.6" height="3.6"/><rect x="374.76" y="162.35" width="3.6" height="3.6"/><rect x="375.63" y="162.55" width="3.6" height="3.6"/><rect x="376.52" y="162.65" width="3.6" height="3.6"/><rect x="377.42" y="162.75" width="3.6" height="3.6"/><rect x="378.31" y="162.86" width="3.6" height="3.6"/><rect x="379.21" y="162.96" width="3.6" height="3.6"/><rect x="380.10" y="163.06" width="3.6" height="3.6"/><rect x="380.99" y="163.16" width="3.6" height="3.6"/><rect x="381.89" y="163.26" width="3.6" height="3.6"/><rect x="382.78" y="163.37" width="3.6" height="3.6"/><rect x="383.68" y="163.47" width="3.6" height="3.6"/><rect x="384.57" y="163.57" width="3.6" height="3.6"/><rect x="385.47" y="163.67" width="3.6" height="3.6"/><rect x="385.70" y="163.70" width="3.6" height="3.6"/></g>
<g stroke="#000" stroke-width="1" fill="none">
<path d="M169.3 12 V167.3 H396.4"/>
<path d="M169.2 167.3 v1.5 M194.4 167.3 v2.5 M219.7 167.3 v1.5 M244.9 167.3 v2.5 M270.1 167.3 v1.5 M295.4 167.3 v2.5 M320.6 167.3 v1.5 M345.9 167.3 v2.5 M371.1 167.3 v1.5 M396.4 167.3 v2.5 M169.3 167.3 h-3.3 M169.3 151.8 h-1.8 M169.3 136.3 h-3.3 M169.3 120.7 h-1.8 M169.3 105.2 h-3.3 M169.3 89.7 h-1.8 M169.3 74.2 h-3.3 M169.3 58.7 h-1.8 M169.3 43.1 h-3.3 M169.3 27.6 h-1.8 M169.3 12.1 h-3.3"/>
</g>
<text x="163.6" y="169.6" font-family="Liberation Sans, sans-serif" font-size="6.6" text-anchor="end" fill="#000">0,0</text>
<text x="160.2" y="139.4" font-family="Liberation Sans, sans-serif" font-size="6.6" text-anchor="end" fill="#000">1,0x10</text>
<text x="160.9" y="136.5" font-family="Liberation Sans, sans-serif" font-size="3.9" fill="#000">-6</text>
<text x="160.2" y="108.3" font-family="Liberation Sans, sans-serif" font-size="6.6" text-anchor="end" fill="#000">2,0x10</text>
<text x="160.9" y="105.4" font-family="Liberation Sans, sans-serif" font-size="3.9" fill="#000">-6</text>
<text x="160.2" y="77.3" font-family="Liberation Sans, sans-serif" font-size="6.6" text-anchor="end" fill="#000">3,0x10</text>
<text x="160.9" y="74.4" font-family="Liberation Sans, sans-serif" font-size="3.9" fill="#000">-6</text>
<text x="160.2" y="46.2" font-family="Liberation Sans, sans-serif" font-size="6.6" text-anchor="end" fill="#000">4,0x10</text>
<text x="160.9" y="43.3" font-family="Liberation Sans, sans-serif" font-size="3.9" fill="#000">-6</text>
<text x="160.2" y="15.2" font-family="Liberation Sans, sans-serif" font-size="6.6" text-anchor="end" fill="#000">5,0x10</text>
<text x="160.9" y="12.3" font-family="Liberation Sans, sans-serif" font-size="3.9" fill="#000">-6</text>
<text x="194.4" y="177.9" font-family="Liberation Sans, sans-serif" font-size="6.8" text-anchor="middle" fill="#000">400</text>
<text x="244.9" y="177.9" font-family="Liberation Sans, sans-serif" font-size="6.8" text-anchor="middle" fill="#000">500</text>
<text x="295.4" y="177.9" font-family="Liberation Sans, sans-serif" font-size="6.8" text-anchor="middle" fill="#000">600</text>
<text x="345.9" y="177.9" font-family="Liberation Sans, sans-serif" font-size="6.8" text-anchor="middle" fill="#000">700</text>
<text x="396.4" y="177.9" font-family="Liberation Sans, sans-serif" font-size="6.8" text-anchor="middle" fill="#000">800</text>
<text x="252" y="188.9" font-family="Liberation Sans, sans-serif" font-size="7.7" fill="#1a1a1a">Wavelength (nm)</text>
<path d="M174 21.5 H182.2 M191.5 21.5 H200" stroke="#000" stroke-width="0.5"/>
<rect x="185" y="19.5" width="4" height="4" fill="#000"/>
<line x1="174" y1="32.3" x2="200" y2="32.3" stroke="#f00" stroke-width="0.6"/>
<circle cx="187.2" cy="32.3" r="3.5" fill="#f00"/>
<line x1="174" y1="46.5" x2="200" y2="46.5" stroke="#00f" stroke-width="0.6"/>
<rect x="184.3" y="43.5" width="6" height="6" fill="#00f"/>
<line x1="175" y1="60.6" x2="200" y2="60.6" stroke="#0f0" stroke-width="4" stroke-linecap="round"/>
<text x="203.4" y="24.6" font-family="Liberation Sans, sans-serif" font-size="11.6" fill="#1a1a1a">Probe Lamp</text>
<text x="203.4" y="35.9" font-family="Liberation Sans, sans-serif" font-size="11.6" fill="#1a1a1a">cathode experimental</text>
<text x="203.4" y="49.9" font-family="Liberation Sans, sans-serif" font-size="11.6" fill="#1a1a1a">pedot experimental</text>
<text x="203.4" y="64.5" font-family="Liberation Sans, sans-serif" font-size="11.6" fill="#1a1a1a">Pedot simulation</text>
</svg>
</body></html>
